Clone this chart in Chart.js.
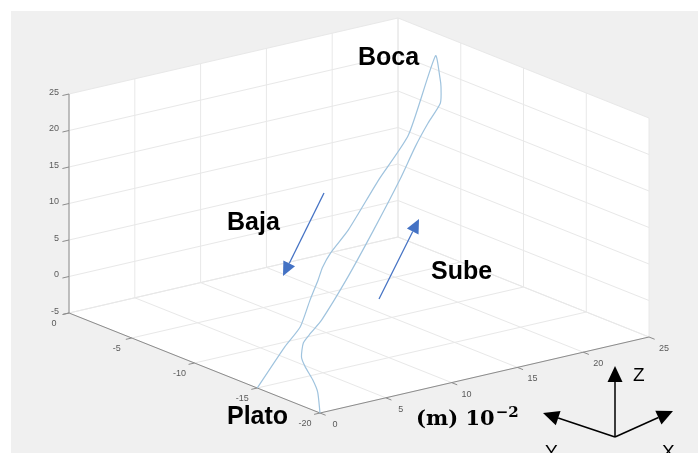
<!DOCTYPE html>
<html>
<head>
<meta charset="utf-8">
<script src="https://cdn.jsdelivr.net/npm/chart.js@4.4.1/dist/chart.umd.min.js"></script>
<style>
  html, body { margin: 0; padding: 0; background: #fff; }
  #wrap { width: 698px; height: 453px; }
</style>
</head>
<body>
<div id="wrap"><canvas id="trayectoria"></canvas></div>
<script>
// Trayectoria de la cuchara (cm): plato -> boca -> plato
const trajA = [-20, -19.5, -19, -18.5, -18, -17, -16, -15, -13.5, -12, -10, -8.5, -7, -6, -5, -4.5, -3.2,
               -4.5, -6, -8, -9, -9.5, -10, -10.5, -11.5, -13, -15];
const trajB = [0, 0.3, 0.4, 0.3, 0.5, 1.6, 3.1, 4.9, 8.2, 11.7, 15.6, 18.2, 20.6, 22.5, 23.5, 23.9, 24.8,
               21.5, 17.8, 13.6, 11.3, 10.2, 9.4, 8.3, 6.6, 4.0, 0];
const trajZ = [-5, -2.6, -1.3, 0.2, 1.1, 1.9, 1.9, 2.3, 5.4, 9.7, 13.6, 16.0, 17.2, 18.5, 19.6, 20.3, 22.1,
               13.5, 9.9, 6.2, 4.7, 3.5, 2.5, 0.5, -1.8, -2.4, -5];

// Marcas de los ejes
const ticksA = [0, -5, -10, -15, -20];
const ticksB = [0, 5, 10, 15, 20, 25];
const ticksZ = [-5, 0, 5, 10, 15, 20, 25];

// Proyeccion 3D -> plano de la figura (vista fija tipo MATLAB)
const proyectar = (a, b, z) => ({
    x: 69 - 12.55 * a + 13.16 * b,
    y: 313 - 5.0 * a - 3.04 * b - 7.3 * (z + 5)
});

const aPixel = (chart, p) => ({
    x: chart.scales.x.getPixelForValue(p.x),
    y: chart.scales.y.getPixelForValue(p.y)
});
const pt = (chart, a, b, z) => aPixel(chart, proyectar(a, b, z));

function linea(ctx, p, q) {
    ctx.beginPath();
    ctx.moveTo(p.x, p.y);
    ctx.lineTo(q.x, q.y);
    ctx.stroke();
}

function flecha(ctx, chart, desde, hasta, color, largo, ancho, grosor) {
    const p = aPixel(chart, desde), q = aPixel(chart, hasta);
    const d = Math.hypot(q.x - p.x, q.y - p.y);
    const ux = (q.x - p.x) / d, uy = (q.y - p.y) / d;
    const bx = q.x - largo * ux, by = q.y - largo * uy;
    ctx.strokeStyle = color;
    ctx.fillStyle = color;
    ctx.lineWidth = grosor;
    linea(ctx, p, { x: bx, y: by });
    ctx.beginPath();
    ctx.moveTo(q.x, q.y);
    ctx.lineTo(bx - ancho * uy, by + ancho * ux);
    ctx.lineTo(bx + ancho * uy, by - ancho * ux);
    ctx.closePath();
    ctx.fill();
}

// Caja, rejilla y ejes
const caja3d = {
    id: 'caja3d',
    beforeDatasetsDraw(chart) {
        const ctx = chart.ctx;
        ctx.save();
        ctx.fillStyle = '#f0f0f0';
        ctx.fillRect(11, 11, chart.width - 11, chart.height - 11);

        // paredes del fondo y suelo
        const muro = [pt(chart, 0, 0, -5), pt(chart, 0, 0, 25), pt(chart, 0, 25, 25),
                      pt(chart, -20, 25, 25), pt(chart, -20, 25, -5), pt(chart, -20, 0, -5)];
        ctx.fillStyle = '#ffffff';
        ctx.beginPath();
        muro.forEach((p, i) => i ? ctx.lineTo(p.x, p.y) : ctx.moveTo(p.x, p.y));
        ctx.closePath();
        ctx.fill();

        ctx.strokeStyle = '#e8e8e8';
        ctx.lineWidth = 1;
        ticksB.forEach(b => {
            linea(ctx, pt(chart, 0, b, -5), pt(chart, 0, b, 25));
            linea(ctx, pt(chart, 0, b, -5), pt(chart, -20, b, -5));
        });
        ticksA.forEach(a => {
            linea(ctx, pt(chart, a, 25, -5), pt(chart, a, 25, 25));
            linea(ctx, pt(chart, a, 0, -5), pt(chart, a, 25, -5));
        });
        ticksZ.forEach(z => {
            linea(ctx, pt(chart, 0, 0, z), pt(chart, 0, 25, z));
            linea(ctx, pt(chart, 0, 25, z), pt(chart, -20, 25, z));
        });

        // ejes
        ctx.strokeStyle = '#8c8c8c';
        linea(ctx, pt(chart, 0, 0, -5), pt(chart, 0, 0, 25));
        linea(ctx, pt(chart, 0, 0, -5), pt(chart, -20, 0, -5));
        linea(ctx, pt(chart, -20, 0, -5), pt(chart, -20, 25, -5));

        ctx.font = '9px "Liberation Sans", Arial, sans-serif';
        ctx.fillStyle = '#5a5a5a';
        ctx.textBaseline = 'middle';
        ticksZ.forEach(z => {
            const p = pt(chart, 0, 0, z);
            linea(ctx, p, pt(chart, 0, -0.5, z));
            ctx.textAlign = 'right';
            ctx.fillText(String(z), p.x - 10, p.y - 1.5);
        });
        ticksA.forEach(a => {
            const p = pt(chart, a, 0, -5);
            linea(ctx, p, pt(chart, a, -0.45, -5));
            ctx.textAlign = 'center';
            ctx.fillText(String(a), p.x - 15, p.y + 10.5);
        });
        ticksB.forEach(b => {
            const p = pt(chart, -20, b, -5);
            linea(ctx, p, pt(chart, -20.45, b, -5));
            ctx.textAlign = 'center';
            ctx.fillText(String(b), p.x + 15, p.y + 11.5);
        });
        ctx.restore();
    }
};

// Textos y flechas añadidos sobre la figura
const anotaciones = {
    id: 'anotaciones',
    afterDatasetsDraw(chart) {
        const ctx = chart.ctx;
        ctx.save();
        ctx.textAlign = 'left';
        ctx.textBaseline = 'alphabetic';
        ctx.fillStyle = '#000';
        ctx.font = 'bold 25px "Liberation Sans", Arial, sans-serif';
        [['Boca', 358, 65], ['Baja', 227, 230], ['Sube', 431, 279], ['Plato', 227, 424]].forEach(([t, x, y]) => {
            const p = aPixel(chart, { x, y });
            ctx.fillText(t, p.x, p.y);
        });

        const u = aPixel(chart, { x: 416, y: 425 });
        ctx.font = 'bold 21px "DejaVu Serif", serif';
        ctx.fillText('(m) 10', u.x, u.y);
        const w = ctx.measureText('(m) 10').width;
        ctx.font = 'bold 15px "DejaVu Serif", serif';
        ctx.fillText('\u22122', u.x + w + 1, u.y - 8);

        flecha(ctx, chart, { x: 324, y: 193 }, { x: 283, y: 276 }, '#4472c4', 14, 6.5, 1.3);
        flecha(ctx, chart, { x: 379, y: 299 }, { x: 419, y: 219 }, '#4472c4', 14, 6.5, 1.3);

        // indicador de ejes
        const o = { x: 615, y: 437 };
        flecha(ctx, chart, o, { x: 615, y: 366 }, '#000', 16, 7.5, 1.5);
        flecha(ctx, chart, o, { x: 543, y: 413 }, '#000', 16, 7.5, 1.5);
        flecha(ctx, chart, o, { x: 673, y: 411 }, '#000', 16, 7.5, 1.5);
        ctx.fillStyle = '#000';
        ctx.font = '19px "Liberation Sans", Arial, sans-serif';
        [['Z', 633, 381], ['Y', 545, 458], ['X', 662, 458]].forEach(([t, x, y]) => {
            const p = aPixel(chart, { x, y });
            ctx.fillText(t, p.x, p.y);
        });
        ctx.restore();
    }
};

const puntos = trajA.map((a, i) => proyectar(a, trajB[i], trajZ[i]));

const grafico = new Chart(document.getElementById('trayectoria'), {
    type: 'scatter',
    data: {
        datasets: [{
            data: puntos,
            showLine: true,
            borderColor: '#9fc3de',
            borderWidth: 1.2,
            pointRadius: 0,
            tension: 0.2,
            fill: false
        }]
    },
    options: {
        responsive: true,
        maintainAspectRatio: false,
        animation: false,
        layout: { padding: 0 },
        scales: {
            x: { type: 'linear', min: 0, max: 698, display: false },
            y: { type: 'linear', min: 0, max: 453, reverse: true, display: false }
        },
        plugins: {
            legend: { display: false },
            tooltip: { enabled: false }
        }
    },
    plugins: [caja3d, anotaciones]
});
</script>
</body>
</html>
